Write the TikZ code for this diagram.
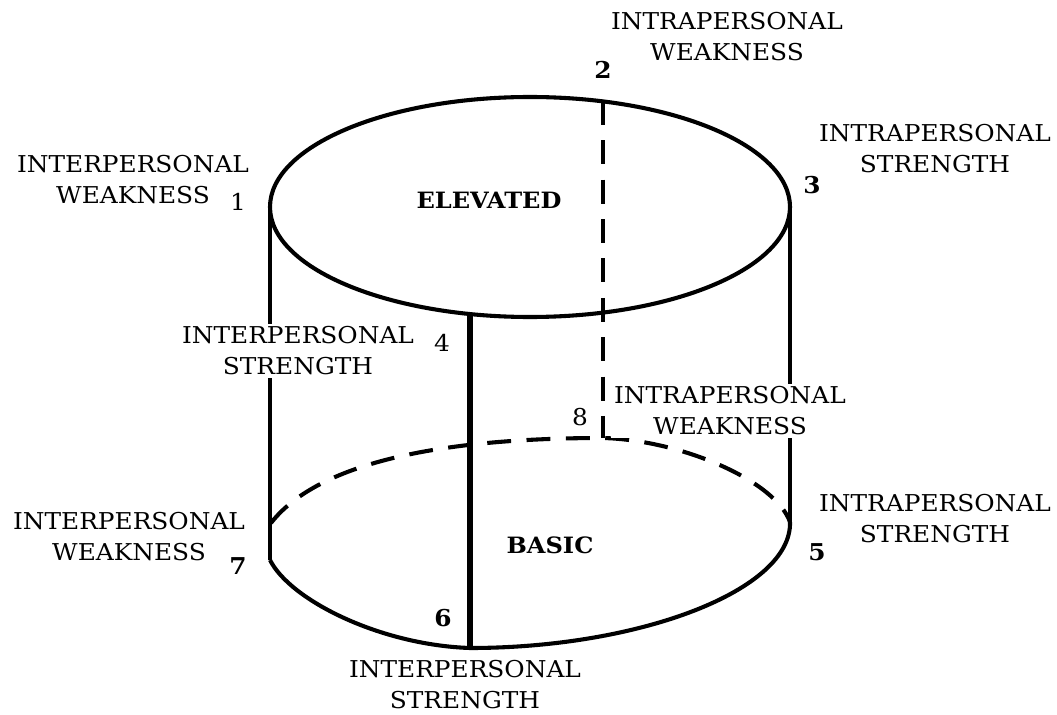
\documentclass[tikz,border=0pt]{standalone}
\usepackage{fontspec}
\setmainfont[FakeStretch=1.07]{DejaVu Serif}

\begin{document}
\begin{tikzpicture}[x=0.025cm, y=-0.025cm,
  rim/.style={line width=2.9pt},
  hidden/.style={line width=2.9pt, dash pattern=on 17pt off 11pt},
  trait/.style={align=center, inner sep=2pt, font=\fontsize{16.5}{22}\selectfont},
  corner/.style={inner sep=1pt, font=\fontsize{16.5}{22}\selectfont},
  boldnum/.style={corner, font=\fontsize{16.5}{22}\selectfont\bfseries},
  tier/.style={font=\fontsize{16}{22}\selectfont\bfseries}]
  \useasboundingbox (0,0) rectangle (1057,715);
  % corners of the cylinder
  \coordinate (p1) at (270,207);
  \coordinate (p2) at (603,101);
  \coordinate (p3) at (790,207);
  \coordinate (p4) at (470,314);
  \coordinate (p5) at (790,522);
  \coordinate (p6) at (470,648);
  \coordinate (p7) at (270,560);
  \coordinate (p8) at (603,438);
  \coordinate (q7) at (271,523);
  % top and sides
  \draw[rim] (530,207) ellipse [x radius=260, y radius=110];
  \draw[rim] (p1) -- (p7);
  \draw[rim] (p3) -- (p5);
  \draw[rim, line width=3.8pt] (p4) -- (p6);
  \draw[hidden] (p2) -- (p8);
  % bottom
  \draw[rim] (p7) .. controls (290,600) and (380,645) .. (p6) .. controls (640,648) and (792,590) .. (p5);
  \draw[hidden] (q7) .. controls (320,460) and (450,438) .. (p8) .. controls (680,440) and (775,480) .. (p5);
  % labels
  \node[trait] (iw2) at (727,37) {INTRAPERSONAL\\WEAKNESS};
  \node[boldnum] (n2) at (603,70) {2};
  \node[trait] (is3) at (935,149) {INTRAPERSONAL\\STRENGTH};
  \node[boldnum] (n3) at (812,185) {3};
  \node[trait] (ew1) at (133,180) {INTERPERSONAL\\WEAKNESS};
  \node[corner] (n1) at (238,202) {1};
  \node[tier] (elevated) at (489,200) {ELEVATED};
  \node[trait, fill=white] (es4) at (298,351) {INTERPERSONAL\\STRENGTH};
  \node[corner] (n4) at (442,343) {4};
  \node[corner] (n8) at (580,417) {8};
  \node[trait, fill=white] (iw8) at (730,411) {INTRAPERSONAL\\WEAKNESS};
  \node[trait] (is5) at (935,519) {INTRAPERSONAL\\STRENGTH};
  \node[boldnum] (n5) at (817,552) {5};
  \node[trait] (ew7) at (129,537) {INTERPERSONAL\\WEAKNESS};
  \node[boldnum] (n7) at (238,566) {7};
  \node[tier] (basic) at (550,545) {BASIC};
  \node[boldnum] (n6) at (443,618) {6};
  \node[trait] (es6) at (465,685) {INTERPERSONAL\\STRENGTH};
\end{tikzpicture}
\end{document}
